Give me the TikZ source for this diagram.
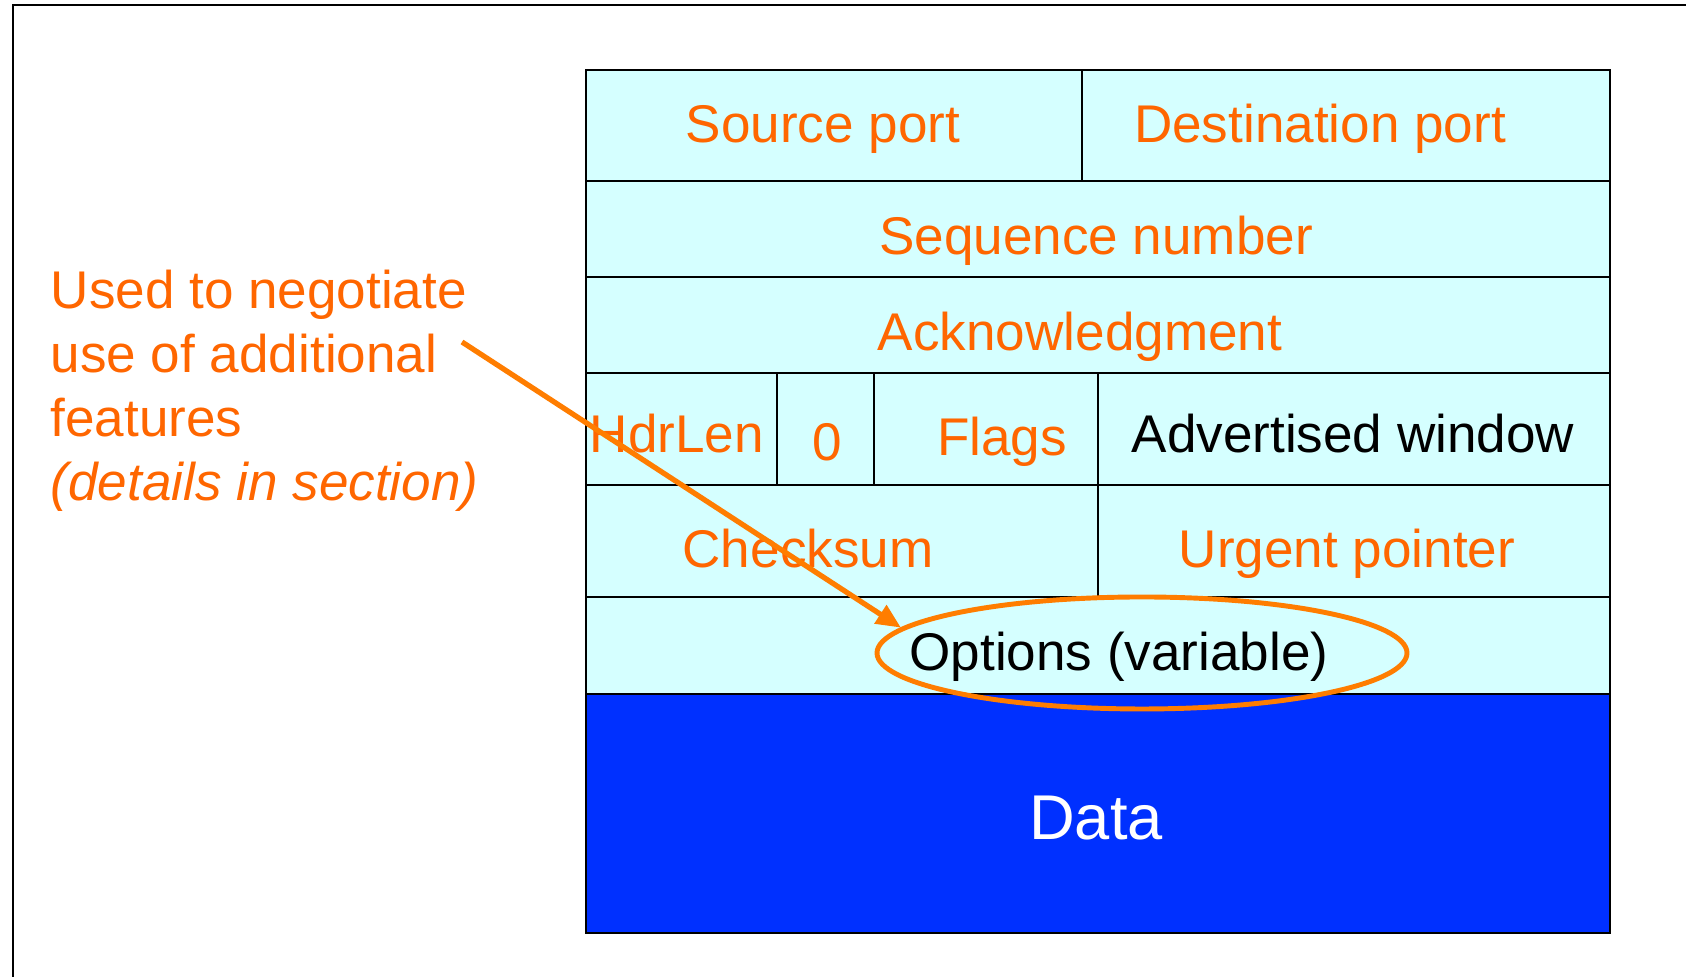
\documentclass[tikz,border=0pt]{standalone}
\usepackage{fontspec}
\setmainfont{Liberation Sans}
\usepackage{xcolor}
\usepackage{tikz}
\usetikzlibrary{shapes.geometric, arrows.meta, positioning}

\definecolor{hdrorange}{RGB}{255,102,0}
\definecolor{lineorange}{RGB}{255,125,0}
\definecolor{cellcyan}{RGB}{213,255,255}
\definecolor{datablue}{RGB}{0,48,255}

\tikzset{
    field/.style={anchor=base, inner sep=0pt, text=hdrorange, font=\fontsize{15.1}{18}\selectfont},
    blackfield/.style={field, text=black},
    cell/.style={draw=black, line width=0.6pt, fill=cellcyan}
}

\begin{document}
\begin{tikzpicture}
        \useasboundingbox (0,0) rectangle (16.86,9.77);
        \draw[line width=0.7pt] (0.13,0) -- (0.13,9.72) -- (16.86,9.72);

        % header rows
        \draw[cell] (5.86,7.96) rectangle (10.82,9.07);
        \draw[cell] (10.82,7.96) rectangle (16.10,9.07);
        \draw[cell] (5.86,7.00) rectangle (16.10,7.96);
        \draw[cell] (5.86,6.04) rectangle (16.10,7.00);
        \draw[cell] (5.86,4.92) rectangle (7.77,6.04);
        \draw[cell] (7.77,4.92) rectangle (8.74,6.04);
        \draw[cell] (8.74,4.92) rectangle (10.98,6.04);
        \draw[cell] (10.98,4.92) rectangle (16.10,6.04);
        \draw[cell] (5.86,3.80) rectangle (10.98,4.92);
        \draw[cell] (10.98,3.80) rectangle (16.10,4.92);
        \draw[cell] (5.86,2.83) rectangle (16.10,3.80);
        \draw[line width=0.6pt, fill=datablue] (5.86,0.44) rectangle (16.10,2.83);

        \node[field] (srcport) at (8.23, 8.34) {Source port};
        \node[field] (dstport) at (13.20, 8.34) {Destination port};
        \node[field] (seqnum) at (10.96, 7.22) {Sequence number};
        \node[field] (acknum) at (10.80, 6.26) {Acknowledgment};
        \node[field] (hdrlen) at (6.77, 5.24) {HdrLen};
        \node[field] (zero) at (8.27, 5.16) {0};
        \node[field] (flags) at (10.02, 5.21) {Flags};
        \node[blackfield] (advwin) at (13.53, 5.24) {Advertised window};
        \node[field] (cksum) at (8.08, 4.09) {Checksum};
        \node[field] (urgptr) at (13.47, 4.09) {Urgent pointer};
        \node[blackfield] (optlbl) at (11.19, 3.06) {Options (variable)};
        \node[field, text=white, font=\fontsize{18}{22}\selectfont] (data) at (10.96, 1.37) {Data};

        \node[draw=lineorange, line width=1.4pt, ellipse, inner sep=0pt,
              minimum width=5.30cm, minimum height=1.12cm] (opts) at (11.42, 3.24) {};

        % note on the left
        \node[field, anchor=base west] (note1) at (0.50, 6.68) {Used to negotiate};
        \node[field, anchor=base west] (note2) at (0.50, 6.04) {use of additional};
        \node[field, anchor=base west] (note3) at (0.50, 5.40) {features};
        \node[field, anchor=base west] (note4) at (0.50, 4.76) {\itshape (details in section)};

        \coordinate (tail) at (4.62, 6.35);
        \draw[lineorange, line width=1.5pt, -{Triangle[length=7pt, width=6pt]}] (tail) -- (opts.174);
    \end{tikzpicture}
\end{document}
